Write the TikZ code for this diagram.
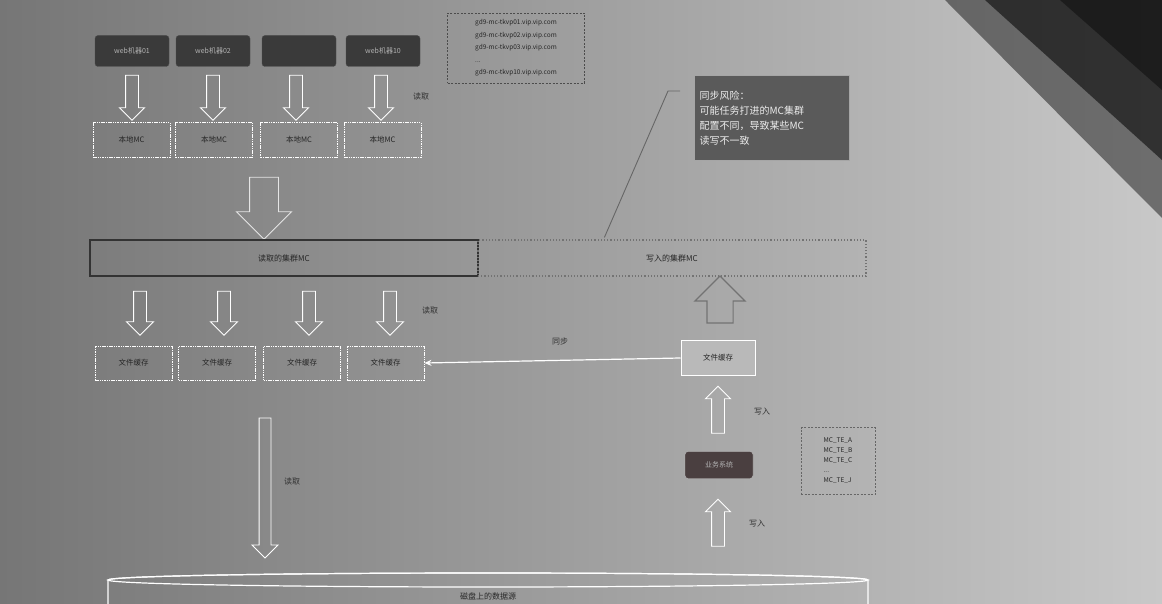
\documentclass[tikz,border=0pt]{standalone}
\usepackage{fontspec}
\setmainfont{Noto Sans CJK SC}
\usetikzlibrary{shapes.arrows,calc,arrows.meta}
\definecolor{bgl}{HTML}{767676}
\definecolor{bgr}{HTML}{C8C8C8}
\definecolor{darkbox}{HTML}{3A3A3A}
\definecolor{notebox}{HTML}{5A5A5A}
\definecolor{redbox}{HTML}{4A3F40}
\tikzset{
  darkbtn/.style={draw=gray!60!black, fill=darkbox, rounded corners=3pt, minimum width=74pt, minimum height=31pt, text=gray!60, font=\fontsize{7}{8}\selectfont},
  wbox/.style={draw=white, line width=0.9pt, dash pattern=on 1.5pt off 0.8pt, minimum width=77pt, minimum height=35pt, font=\fontsize{7.5}{9}\selectfont, text=black!85},
  hollow/.style={single arrow, draw=white, line width=0.9pt, single arrow head indent=0pt, minimum width=0pt},
  lbl/.style={font=\fontsize{8}{9}\selectfont, text=black!80},
}
\begin{document}
\begin{tikzpicture}[x=1pt,y=-1pt]
\useasboundingbox (0,0) rectangle (1162,604);
% background
\shade[left color=bgl, right color=bgr] (0,0) rectangle (1162,604);
\fill[black, opacity=0.45] (945,0) -- (1162,0) -- (1162,218) -- cycle;
\fill[black, opacity=0.55] (985,0) -- (1162,0) -- (1162,160) -- cycle;
\fill[black, opacity=0.4] (1060,0) -- (1162,0) -- (1162,90) -- cycle;

% top dark buttons
\node[darkbtn] (s1) at (132,51) {web机器01};
\node[darkbtn] (s2) at (213,51) {web机器02};
\node[darkbtn] (s3) at (299,51) {};
\node[darkbtn] (s4) at (383,51) {web机器10};

% host list
\node[draw=black!70, dash pattern=on 2pt off 1.5pt, minimum width=137pt, minimum height=70pt, align=left, font=\fontsize{6.5}{12.5}\selectfont, text=black!85] (hosts) at (516,48)
  {gd9-mc-tkvp01.vip.vip.com\\gd9-mc-tkvp02.vip.vip.com\\gd9-mc-tkvp03.vip.vip.com\\...\\gd9-mc-tkvp10.vip.vip.com};

% arrows to local MC
\foreach \i/\x in {1/132,2/213,3/296,4/381}{
  \node[hollow, shape border rotate=270, inner sep=6pt, single arrow head extend=6pt, minimum height=45pt] (a\i) at (\x,94.5) {};
}
\node[lbl] (rd1) at (421,96) {读取};

% local MC boxes
\node[wbox] (m1) at (131.5,140) {本地MC};
\node[wbox] (m2) at (214,140) {本地MC};
\node[wbox] (m3) at (299,140) {本地MC};
\node[wbox] (m4) at (382.5,140) {本地MC};

% big arrow
\node[hollow, draw=white!90!black, shape border rotate=270, inner sep=14pt, single arrow head extend=13pt, minimum height=62pt] (big) at (264,201) {};

% cluster bar
\node[draw=black!80, line width=1.2pt, minimum width=388pt, minimum height=36pt, font=\fontsize{8}{9}\selectfont, text=black!85] (rbar) at (284,258) {读取的集群MC};
\node[draw=black!55, line width=1.2pt, dotted, minimum width=388pt, minimum height=36pt, font=\fontsize{8}{9}\selectfont, text=black!85] (wbar) at (672,258) {写入的集群MC};

% note
\node[draw=gray!70, fill=notebox, line width=1pt, minimum width=155pt, minimum height=85pt, align=left, text=gray!15, font=\fontsize{10}{15}\selectfont, inner sep=4pt, text width=145pt] (note) at (772,118)
  {同步风险：\\可能任务打进的MC集群\\配置不同，导致某些MC\\读写不一致};
\coordinate (nk) at (668,91);
\draw[black!60, line width=0.9pt] ($(wbar.north west)+(127,-2)$) -- (nk) -- ++(12,0);

% arrows to file caches
\foreach \i/\x in {1/140,2/224,3/309,4/390}{
  \node[hollow, shape border rotate=270, inner sep=6pt, single arrow head extend=7pt, minimum height=44pt] (b\i) at (\x,310) {};
}
\node[lbl] (rd2) at (430,310) {读取};

% file cache boxes
\node[wbox, minimum height=34pt] (f1) at (133.5,363) {文件缓存};
\node[wbox, minimum height=34pt] (f2) at (217,363) {文件缓存};
\node[wbox, minimum height=34pt] (f3) at (302,363) {文件缓存};
\node[wbox, minimum height=34pt] (f4) at (385.5,363) {文件缓存};

% right side
\node[draw=white, line width=1pt, fill=gray!55, minimum width=74pt, minimum height=35pt, font=\fontsize{7.5}{9}\selectfont, text=black!85] (fc) at (718,358) {文件缓存};
\node[hollow, draw=black!55, line width=1.2pt, shape border rotate=90, inner sep=12.5pt, single arrow head extend=12pt, minimum height=47pt] (up1) at (720,306) {};
\draw[white, line width=1.2pt, -{Stealth[length=7pt,width=6pt]}] (fc.west) -- (f4.east);
\node[lbl] (sync) at (560,341) {同步};

\node[hollow, shape border rotate=90, inner sep=6pt, single arrow head extend=6pt, minimum height=47pt] (up2) at (718,413) {};
\node[lbl] (w1) at (762,412) {写入};

\node[draw=gray!50, fill=redbox, rounded corners=3pt, minimum width=68pt, minimum height=27pt, text=gray!60, font=\fontsize{7}{8}\selectfont] (biz) at (719,465) {业务系统};

\node[draw=black!60, dash pattern=on 2pt off 1.5pt, minimum width=74pt, minimum height=67pt, align=left, font=\fontsize{6.5}{10}\selectfont, text=black!85] (tes) at (838,461)
  {MC\_TE\_A\\MC\_TE\_B\\MC\_TE\_C\\...\\MC\_TE\_J};

\node[hollow, shape border rotate=90, inner sep=6pt, single arrow head extend=6pt, minimum height=47pt] (up3) at (718,526) {};
\node[lbl] (w2) at (757,524) {写入};

% long down arrow
\node[hollow, shape border rotate=270, inner sep=5.5pt, single arrow head extend=7pt, minimum height=140pt] (long) at (265,485) {};
\node[lbl] (rd3) at (292,481) {读取};

% cylinder
\draw[white, line width=1.2pt] (108,604) -- (108,580) arc[start angle=180, end angle=360, x radius=380, y radius=7] -- (868,604);
\draw[white, line width=1.2pt] (488,580) ellipse[x radius=380, y radius=7];
\node[font=\fontsize{8}{9}\selectfont, text=black!85, inner sep=1pt] (ds) at (488,596) {磁盘上的数据源};
\end{tikzpicture}
\end{document}
